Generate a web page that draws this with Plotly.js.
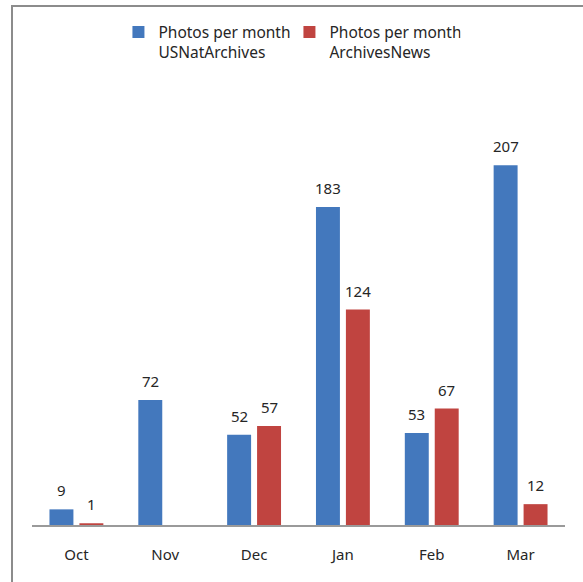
<!DOCTYPE html>
<html>
<head>
<meta charset="utf-8">
<script src="https://cdn.plot.ly/plotly-3.0.1.min.js"></script>
<style>
  html, body { margin: 0; padding: 0; background: #fff; overflow: hidden; }
  #chart { position: absolute; left: 0; top: 0; width: 583px; height: 582px; }
  #frame { position: absolute; left: 11px; top: 5px; width: 700px; height: 700px;
           border-top: 2px solid #8c8c8c; border-left: 2px solid #8c8c8c; pointer-events: none; }
</style>
</head>
<body>
<div id="chart"></div>
<div id="frame"></div>
<script>
const months = ["Oct", "Nov", "Dec", "Jan", "Feb", "Mar"];
const usNatArchives = [9, 72, 52, 183, 53, 207];
const archivesNews = [1, null, 57, 124, 67, 12];
const seriesNames = ["Photos per month<br>USNatArchives", "Photos per month<br>ArchivesNews"];

const font = "Noto Sans, Open Sans, sans-serif";
const txtColor = "#262626";
const labelFont = { family: font, size: 15, color: txtColor };

const traces = [
  { type: "bar", x: months, y: usNatArchives, name: seriesNames[0],
    marker: { color: "#4378bd" }, hoverinfo: "x+y" },
  { type: "bar", x: months, y: archivesNews, name: seriesNames[1],
    marker: { color: "#c04440" }, hoverinfo: "x+y" }
];

// value labels as annotations anchored to the data (offset to each bar of the group)
const annotations = [];
[usNatArchives, archivesNews].forEach((series, si) => {
  series.forEach((v, i) => {
    if (v == null) return;
    annotations.push({
      x: months[i], y: v, xref: "x", yref: "y", text: String(v), showarrow: false,
      xanchor: "center", yanchor: "bottom", xshift: si === 0 ? -15 : 15, yshift: 7,
      font: labelFont
    });
  });
});

const layout = {
  width: 583, height: 582,
  margin: { l: 31.5, r: 17.5, t: 107.6, b: 57 },
  paper_bgcolor: "#ffffff", plot_bgcolor: "#ffffff",
  barmode: "group", bargap: 0.326, bargroupgap: 0.2,
  showlegend: true,
  legend: { orientation: "h", x: 0.483, xanchor: "center", y: 1.222, yanchor: "top",
            valign: "top", font: { family: font, size: 15.5, color: txtColor },
            itemwidth: 30, entrywidth: 126, traceorder: "normal" },
  annotations: annotations,
  xaxis: { type: "category", range: [-0.5, 5.5], showgrid: false, zeroline: false,
           showline: true, linecolor: "#9a9a9a", linewidth: 1.5, ticks: "",
           tickfont: { family: font, size: 15, color: txtColor }, ticklabelstandoff: 15 },
  yaxis: { range: [0, 240], visible: false, showgrid: false, zeroline: false, fixedrange: true },
  font: { family: font }
};

Plotly.newPlot("chart", traces, layout, { displayModeBar: false, staticPlot: true });
</script>
</body>
</html>
